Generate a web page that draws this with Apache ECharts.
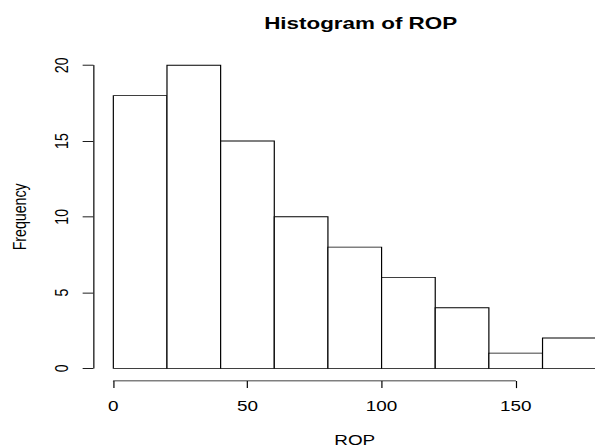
<!DOCTYPE html>
<html>
<head>
<meta charset="utf-8">
<script src="https://cdn.jsdelivr.net/npm/echarts@6/dist/echarts.min.js"></script>
<style>
  html, body { margin: 0; padding: 0; background: #fff; overflow: hidden; width: 595px; height: 447px; }
  #chart { position: absolute; left: 0; top: 0; width: 504px; height: 504px;
           transform: scale(1.18056, 0.88690); transform-origin: 0 0; }
</style>
</head>
<body>
<div id="chart"></div>
<script>
// Histogram data (bin edges and counts)
const binStarts = [0, 20, 40, 60, 80, 100, 120, 140, 160];
const binEnds   = [20, 40, 60, 80, 100, 120, 140, 160, 180];
const counts    = [18, 20, 15, 10, 8, 6, 4, 1, 2];
const xTicks = [0, 50, 100, 150];
const yTicks = [0, 5, 10, 15, 20];
const titleText = 'Histogram of ROP';
const xName = 'ROP';
const yName = 'Frequency';

const bins = binStarts.map((s, i) => [s, binEnds[i], counts[i]]);

const chart = echarts.init(document.getElementById('chart'), null, { renderer: 'svg' });
const font = 'Liberation Sans, Arial, Helvetica, sans-serif';
const axisLineStyle = { color: '#000', width: 1 };

chart.setOption({
  animation: false,
  backgroundColor: '#fff',
  title: {
    text: titleText,
    left: 300.5, top: 12, textAlign: 'center',
    textStyle: { fontFamily: font, fontWeight: 'bold', fontSize: 19, color: '#000' }
  },
  grid: [
    { left: 96, top: 73.6, width: 409, height: 341.7, containLabel: false, outerBoundsMode: 'none' },
    { left: 96, top: 73.6, width: 340.8, height: 341.7, containLabel: false, outerBoundsMode: 'none' }
  ],
  xAxis: [
    {
      gridIndex: 0, type: 'value', min: 0, max: 180,
      axisLine: { show: false, onZero: false }, axisTick: { show: false }, axisLabel: { show: false },
      splitLine: { show: false },
      name: xName, nameLocation: 'middle', nameGap: 73,
      nameTextStyle: { fontFamily: font, fontSize: 16, color: '#000' }
    },
    {
      gridIndex: 1, type: 'value', min: xTicks[0], max: xTicks[xTicks.length - 1], interval: 50,
      offset: 14.3,
      axisLine: { show: true, onZero: false, lineStyle: axisLineStyle },
      axisTick: { show: true, length: 8, lineStyle: axisLineStyle },
      axisLabel: { show: true, margin: 21, fontFamily: font, fontSize: 16, color: '#000' },
      splitLine: { show: false }
    }
  ],
  yAxis: [
    {
      gridIndex: 0, type: 'value', min: yTicks[0], max: yTicks[yTicks.length - 1], interval: 5,
      offset: 17,
      axisLine: { show: true, onZero: false, lineStyle: axisLineStyle },
      axisTick: { show: true, length: 9, lineStyle: axisLineStyle },
      axisLabel: { show: true, rotate: 90, margin: 19, fontFamily: font, fontSize: 16, color: '#000' },
      splitLine: { show: false },
      name: yName, nameLocation: 'middle', nameGap: 54, nameRotate: 90,
      nameTextStyle: { fontFamily: font, fontSize: 16, color: '#000' }
    },
    {
      gridIndex: 1, type: 'value', min: 0, max: 20, show: false
    }
  ],
  series: [{
    type: 'custom',
    xAxisIndex: 0, yAxisIndex: 0,
    data: bins,
    clip: false,
    renderItem: function (params, api) {
      const p0 = api.coord([api.value(0), 0]);
      const p1 = api.coord([api.value(1), api.value(2)]);
      return {
        type: 'rect',
        shape: { x: p0[0], y: p1[1], width: p1[0] - p0[0], height: p0[1] - p1[1] },
        style: { fill: '#fff', stroke: '#000', lineWidth: 1 }
      };
    }
  }]
});
</script>
</body>
</html>
